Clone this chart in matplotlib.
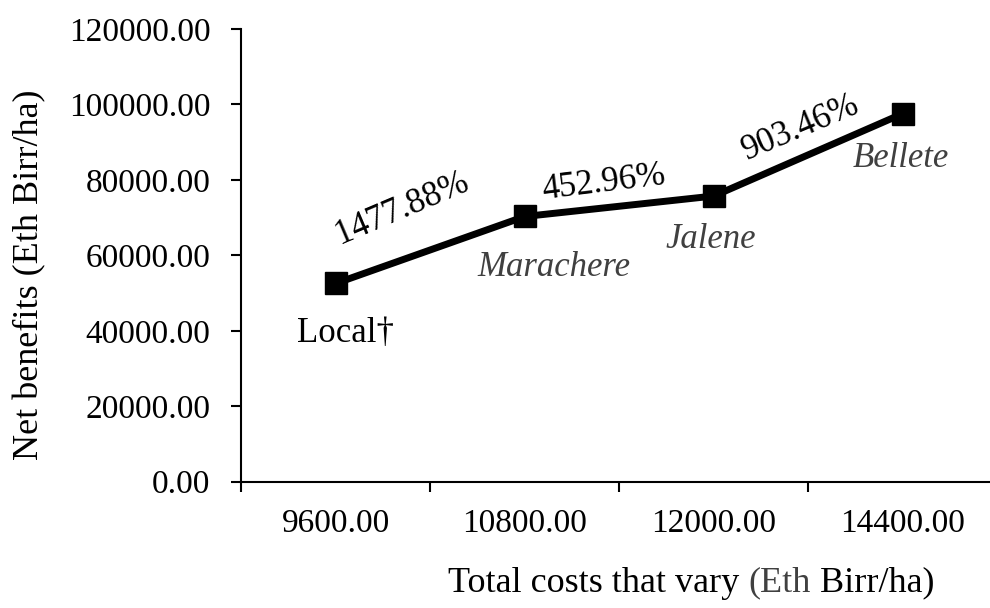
import matplotlib
matplotlib.use("Agg")
import matplotlib.pyplot as plt
from matplotlib.ticker import FixedLocator

plt.rcParams["font.family"] = ["Liberation Serif", "DejaVu Serif"]

# ---- data ----
costs = ["9600.00", "10800.00", "12000.00", "14400.00"]
varieties = ["Local\u2020", "Marachere", "Jalene", "Bellete"]
net_benefits = [52540, 70300, 75730, 97600]
mrr = ["1477.88%", "452.96%", "903.46%"]

INK = "#000000"
GRAY = "#404040"
TICK_FS = 24
LAB_FS = 26
ANN_FS = 25

fig = plt.figure(figsize=(9.9, 6.08), dpi=100)
ax = fig.add_axes([241 / 990, 1 - 481.7 / 608, (990 - 241) / 990, (481.7 - 29) / 608])

x = list(range(len(costs)))
ax.plot(x, net_benefits, color=INK, lw=5, marker="s", ms=16, clip_on=False)

ax.set_xlim(-0.5, 3.46)
ax.set_ylim(0, 120000)
ax.set_yticks(range(0, 120001, 20000))
ax.set_yticklabels([f"{v:.2f}" for v in range(0, 120001, 20000)], fontsize=TICK_FS)
ax.set_xticks(x)
ax.set_xticklabels(costs, fontsize=TICK_FS)
ax.xaxis.set_minor_locator(FixedLocator([-0.5, 0.5, 1.5, 2.5]))
ax.tick_params(axis="x", which="major", length=0, pad=19)
ax.tick_params(axis="x", which="minor", length=7, width=1.5, direction="out")
ax.tick_params(axis="y", length=7, width=1.5, pad=15)

for s in ["top", "right"]:
    ax.spines[s].set_visible(False)
for s in ["left", "bottom"]:
    ax.spines[s].set_linewidth(1.5)

# variety labels
ax.text(0.05, 39400, varieties[0], fontsize=ANN_FS, color=INK, ha="center", va="center")
ax.text(1.155, 56650, varieties[1], fontsize=ANN_FS, color=GRAY, style="italic", ha="center", va="center")
ax.text(1.985, 64070, varieties[2], fontsize=ANN_FS, color=GRAY, style="italic", ha="center", va="center")
ax.text(2.99, 85760, varieties[3], fontsize=ANN_FS, color=GRAY, style="italic", ha="center", va="center")

# marginal rate of return labels
ax.text(0.35, 72500, mrr[0], fontsize=ANN_FS, rotation=23, ha="center", va="center", rotation_mode="anchor")
ax.text(1.42, 79200, mrr[1], fontsize=ANN_FS, rotation=7, ha="center", va="center", rotation_mode="anchor")
ax.text(2.46, 93800, mrr[2], fontsize=ANN_FS, rotation=23, ha="center", va="center", rotation_mode="anchor")

# axis titles
fig.text(30 / 990, 1 - 275 / 608, "Net benefits (Eth Birr/ha)", rotation=90,
         fontsize=LAB_FS, ha="center", va="center")
t1 = fig.text(448 / 990, 1 - 583 / 608, "Total costs that vary ", fontsize=LAB_FS, va="center", ha="left")
t2 = ax.annotate("(Eth", xy=(1, 0), xycoords=t1, fontsize=LAB_FS, color=GRAY, va="bottom", ha="left",
                 annotation_clip=False)
t3 = ax.annotate(" Birr/ha)", xy=(1, 0), xycoords=t2, fontsize=LAB_FS, color=INK, va="bottom", ha="left",
                 annotation_clip=False)

fig.savefig("out.png", dpi=100, facecolor="white")
